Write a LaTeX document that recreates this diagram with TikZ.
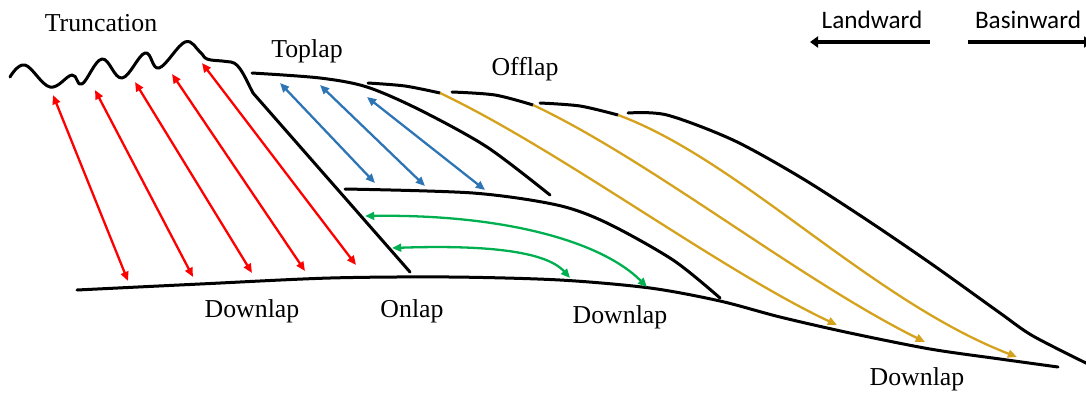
\documentclass[tikz,border=0pt]{standalone}
\usepackage{fontspec}
\setmainfont{Liberation Serif}
\newfontfamily\labelsans{Carlito}
\usetikzlibrary{arrows.meta}
\definecolor{truncred}{HTML}{FF0000}
\definecolor{topblue}{HTML}{2E75B6}
\definecolor{onlapgreen}{HTML}{00B050}
\definecolor{offgold}{HTML}{D4A21C}
\begin{document}
\begin{tikzpicture}[x=0.5pt,y=-0.5pt,
  surface/.style={line width=1.5pt, line cap=round, line join=round},
  twoway/.style={line width=1.15pt, {Triangle[length=4.6pt,width=3.9pt]}-{Triangle[length=4.6pt,width=3.9pt]}},
  oneway/.style={line width=1.15pt, -{Triangle[length=4.6pt,width=3.9pt]}},
  seriflabel/.style={font=\fontsize{12.9pt}{15pt}\selectfont, inner sep=0pt, anchor=base},
  sanslabel/.style={font=\labelsans\fontsize{12.6pt}{15pt}\selectfont, inner sep=0pt, anchor=base},
  direction/.style={line width=2.3pt, -{Triangle[length=4pt,width=5.5pt]}}]
\useasboundingbox (0,0) rectangle (1086,392);

% ---- stratal surfaces ----
% eroded top with truncation, then the steep flank
\draw[surface] plot[smooth, tension=0.65] coordinates {(10,77) (25,65) (50,87) (72,75) (82,84) (102,59) (122,78) (145,53) (159,68) (185,42) (200,52) (207,59) (222,61) (231,62)}
  .. controls (240,63) and (246,80) .. (253,93) -- (410,272);
% toplap surface
\draw[surface] plot[smooth] coordinates {(252,73) (320,78) (367,87) (420,110) (487,147) (550,195)};
% onlap/downlap unit top
\draw[surface] plot[smooth] coordinates {(345,189) (473,193) (557,205) (607,223) (673,260) (720,298)};
% basal surface
\draw[surface] plot[smooth] coordinates {(77,290) (200,284) (330,278) (450,277) (560,280) (650,288) (720,301) (780,317) (850,333) (930,349) (1000,359) (1058,367)};
% offlap shelf segments
\draw[surface] plot[smooth] coordinates {(368,83) (405,86) (440,93)};
\draw[surface] plot[smooth] coordinates {(452,92) (495,95) (533,105)};
\draw[surface] plot[smooth] coordinates {(540,103) (580,106) (618,115)};
\draw[surface] plot[smooth] coordinates {(628,113) (667,115) (733,140) (800,177) (867,220) (933,265) (1000,313) (1033,336) (1090,365)};

% ---- truncation (red) ----
\coordinate (r1a) at (53,95);  \coordinate (r1b) at (128,281);
\coordinate (r2a) at (95,90);  \coordinate (r2b) at (193,277);
\coordinate (r3a) at (135,82); \coordinate (r3b) at (252,273);
\coordinate (r4a) at (172,74); \coordinate (r4b) at (305,271);
\coordinate (r5a) at (202,63); \coordinate (r5b) at (356,265);
\foreach \i in {1,...,5} \draw[twoway, truncred] (r\i a) -- (r\i b);

% ---- toplap (blue) ----
\coordinate (b1a) at (280,83);  \coordinate (b1b) at (375,183);
\coordinate (b2a) at (320,85);  \coordinate (b2b) at (425,186);
\coordinate (b3a) at (367,97);  \coordinate (b3b) at (485,190);
\foreach \i in {1,2,3} \draw[twoway, topblue] (b\i a) -- (b\i b);

% ---- onlap / downlap (green) ----
\coordinate (g1a) at (365,216); \coordinate (g1b) at (647,287);
\coordinate (g2a) at (392,248); \coordinate (g2b) at (570,278);
\draw[twoway, onlapgreen] (g1a) .. controls (500,214) and (600,240) .. (g1b);
\draw[twoway, onlapgreen] (g2a) .. controls (480,245) and (545,250) .. (g2b);

% ---- offlap clinoforms (gold) ----
\coordinate (y1a) at (440,93);  \coordinate (y1b) at (837,325);
\coordinate (y2a) at (533,105); \coordinate (y2b) at (925,342);
\coordinate (y3a) at (618,115); \coordinate (y3b) at (1017,357);
\draw[oneway, offgold] (y1a) .. controls (560,150) and (720,270) .. (y1b);
\draw[oneway, offgold] (y2a) .. controls (650,160) and (800,280) .. (y2b);
\draw[oneway, offgold] (y3a) .. controls (740,160) and (870,300) .. (y3b);

% ---- labels ----
\node[seriflabel] (trunc) at (101,31) {Truncation};
\node[seriflabel] (toplap) at (307,57) {Toplap};
\node[seriflabel] (offlap) at (525,75) {Offlap};
\node[seriflabel] (down1) at (252,317) {Downlap};
\node[seriflabel] (onlap) at (412,317) {Onlap};
\node[seriflabel] (down2) at (620,323) {Downlap};
\node[seriflabel] (down3) at (917,385) {Downlap};

% ---- direction key ----
\node[sanslabel] (land) at (872,28) {Landward};
\node[sanslabel] (basin) at (1028,28) {Basinward};
\coordinate (landS) at (930,42); \coordinate (landE) at (810,42);
\coordinate (basinS) at (968,42); \coordinate (basinE) at (1092,42);
\draw[direction] (landS) -- (landE);
\draw[direction] (basinS) -- (basinE);
\end{tikzpicture}
\end{document}
